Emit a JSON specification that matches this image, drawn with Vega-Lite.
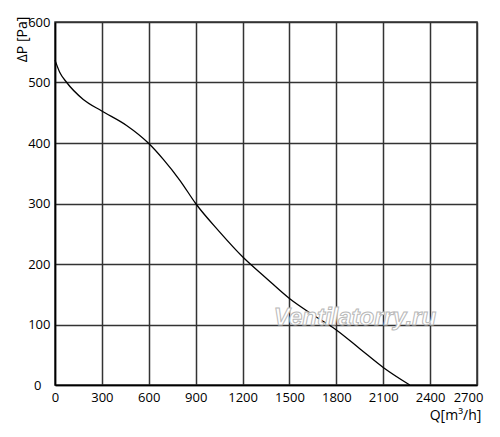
{
  "$schema": "https://vega.github.io/schema/vega-lite/v6.json",
  "width": 422,
  "height": 363,
  "autosize": "none",
  "padding": {"left": 55, "top": 22, "right": 23, "bottom": 52},
  "background": "white",
  "config": {"view": {"stroke": "#333333", "strokeWidth": 1.5}, "font": "Open Sans"},
  "layer": [
    {
      "data": {"values": [
        {"Q": 0, "P": 537}, {"Q": 30, "P": 517}, {"Q": 75, "P": 500},
        {"Q": 181, "P": 472}, {"Q": 299, "P": 453}, {"Q": 458, "P": 429}, {"Q": 597, "P": 400},
        {"Q": 693, "P": 373}, {"Q": 800, "P": 338}, {"Q": 900, "P": 300}, {"Q": 1050, "P": 254},
        {"Q": 1200, "P": 212}, {"Q": 1350, "P": 177}, {"Q": 1500, "P": 143}, {"Q": 1650, "P": 116},
        {"Q": 1800, "P": 91}, {"Q": 1950, "P": 60}, {"Q": 2100, "P": 29}, {"Q": 2270, "P": 0}
      ]},
      "mark": {"type": "line", "color": "black", "strokeWidth": 1.3, "interpolate": "monotone"},
      "encoding": {
        "x": {
          "field": "Q", "type": "quantitative",
          "scale": {"domain": [0, 2700], "nice": false},
          "axis": {
            "values": [0, 300, 600, 900, 1200, 1500, 1800, 2100, 2400, 2700],
            "format": "d",
            "grid": true, "gridColor": "#333333", "gridWidth": 1.5,
            "ticks": false, "domainColor": "black", "domainWidth": 1.5,
            "labelFlush": false, "labelOverlap": false,
            "labelPadding": 6, "labelFontSize": 13, "labelColor": "black",
            "labelOffset": {"condition": {"test": "datum.value == 2700", "value": -9}, "value": 0},
            "title": "Q[m³/h]", "titleX": 400, "titleY": 30,
            "titleAlign": "center", "titleBaseline": "middle",
            "titleFontSize": 14, "titleFontWeight": "normal", "titleColor": "black"
          }
        },
        "y": {
          "field": "P", "type": "quantitative",
          "scale": {"domain": [0, 600], "nice": false},
          "axis": {
            "values": [0, 100, 200, 300, 400, 500, 600],
            "format": "d",
            "grid": true, "gridColor": "#333333", "gridWidth": 1.5,
            "ticks": false, "domainColor": "black", "domainWidth": 1.5,
            "labelFlush": false, "labelOverlap": false,
            "labelPadding": {"condition": {"test": "datum.value == 0", "value": 14}, "value": 5},
            "labelFontSize": 13, "labelColor": "black",
            "title": "ΔP [Pa]", "titleX": -33, "titleY": 17, "titleAngle": -90,
            "titleAlign": "center", "titleBaseline": "middle",
            "titleFontSize": 14, "titleFontWeight": "normal", "titleColor": "black"
          }
        }
      }
    },
    {
      "data": {"values": [{"label": "Ventilatorry.ru", "Q": 1919, "P": 99}]},
      "mark": {"type": "text", "font": "Liberation Sans", "fontSize": 24, "fontWeight": "bold", "fontStyle": "italic",
               "fill": "white", "stroke": "#b8b8b8", "strokeWidth": 1, "align": "center", "baseline": "alphabetic"},
      "encoding": {
        "x": {"field": "Q", "type": "quantitative"},
        "y": {"field": "P", "type": "quantitative"},
        "text": {"field": "label"}
      }
    }
  ]
}
